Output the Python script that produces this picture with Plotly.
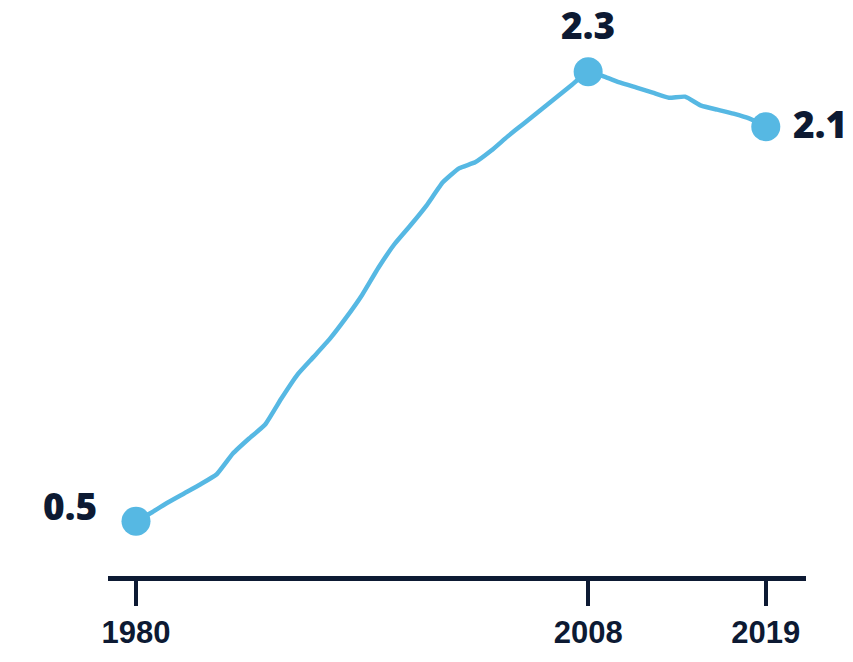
import plotly.graph_objects as go

years = list(range(1980, 2020))
values = [0.50, 0.536, 0.576, 0.612, 0.648, 0.688, 0.771, 0.831, 0.887, 0.991,
          1.087, 1.158, 1.230, 1.314, 1.406, 1.514, 1.609, 1.685, 1.765, 1.857,
          1.913, 1.937, 1.984, 2.040, 2.092, 2.144, 2.196, 2.248, 2.300, 2.280,
          2.256, 2.236, 2.216, 2.196, 2.200, 2.164, 2.148, 2.132, 2.112, 2.080]
highlight_years = [1980, 2008, 2019]
highlight_labels = ["0.5", "2.3", "2.1"]
tick_years = [1980, 2008, 2019]
tick_labels = ["1980", "2008", "2019"]

LINE = "#56B8E3"
NAVY = "#0D1A33"

hv = [values[years.index(y)] for y in highlight_years]

fig = go.Figure()
fig.add_trace(go.Scatter(x=years, y=values, mode="lines",
                         line=dict(color=LINE, width=4.5, shape="spline", smoothing=0.4),
                         hoverinfo="skip"))
fig.add_trace(go.Scatter(x=highlight_years, y=hv, mode="markers",
                         marker=dict(color=LINE, size=29), hoverinfo="skip"))

shifts = [(-66, 16), (0, 47), (54, 3)]
for yr, v, lab, (dx, dy) in zip(highlight_years, hv, highlight_labels, shifts):
    fig.add_annotation(x=yr, y=v, text=lab, showarrow=False,
                       xshift=dx, yshift=dy, borderpad=0,
                       font=dict(family="Open Sans", size=37, color=NAVY, weight=800))

fig.update_layout(
    width=853, height=662,
    margin=dict(l=108, r=47, t=30, b=84),
    plot_bgcolor="white", paper_bgcolor="white",
    showlegend=False,
    hovermode=False,
    xaxis=dict(range=[1978.266, 2021.49], tickvals=tick_years, ticktext=tick_labels,
               showgrid=False, zeroline=False, showline=True, linewidth=5,
               linecolor=NAVY, ticks="outside", ticklen=25, tickwidth=4,
               tickcolor=NAVY,
               tickfont=dict(family="Liberation Sans", size=31, color=NAVY, weight="bold")),
    yaxis=dict(range=[0.2805, 2.467], visible=False),
)

fig.write_html("out.html", config={"displayModeBar": False},
               post_script="document.body.style.margin='0';")
